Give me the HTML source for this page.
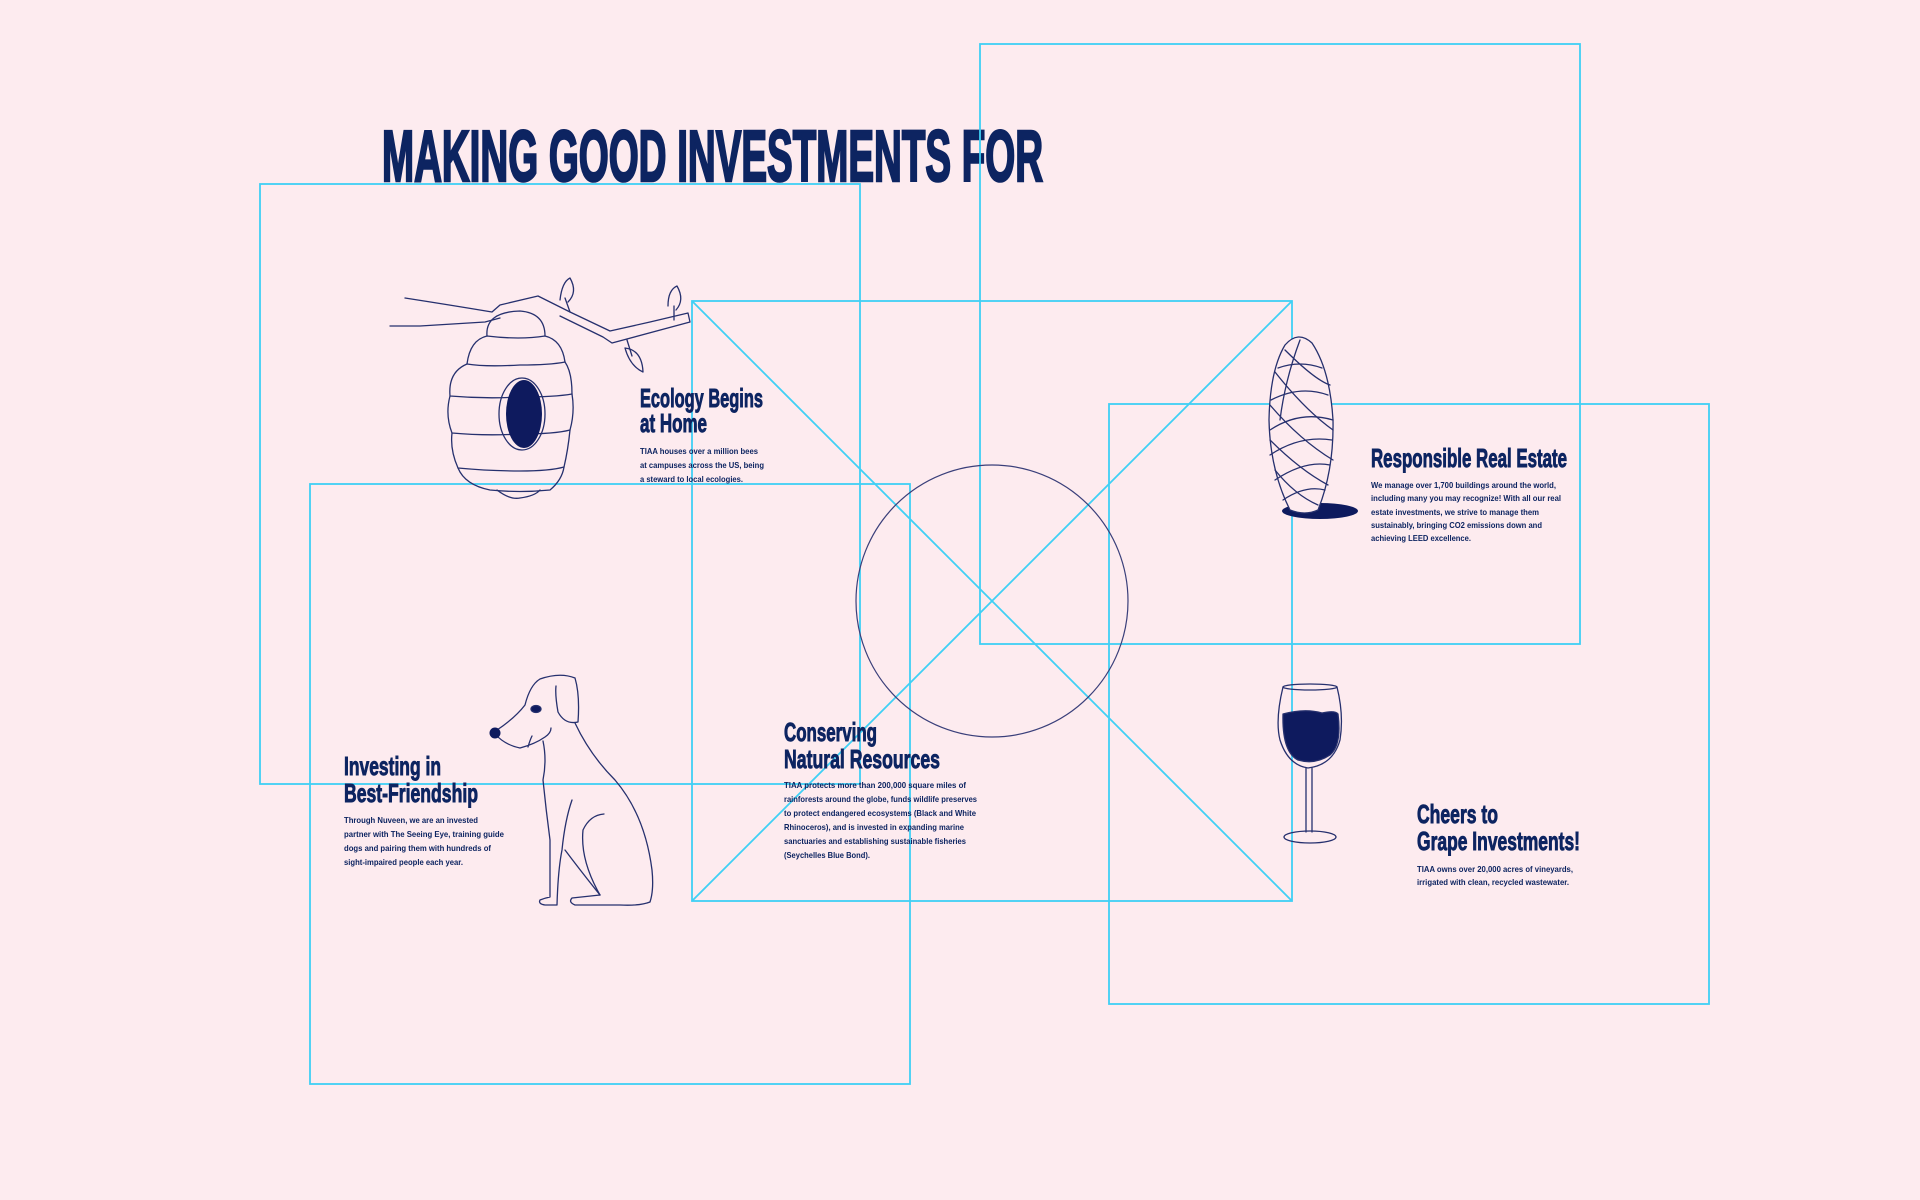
<!DOCTYPE html>
<html><head><meta charset="utf-8"><style>
html,body{margin:0;padding:0;background:#fdebef;}
svg{display:block}
.h{font-family:"Liberation Sans",sans-serif;font-weight:700;fill:#0d2461;stroke:#0d2461;stroke-width:0.9}
.t{stroke-width:2.6}
.b{font-family:"Liberation Sans",sans-serif;font-weight:700;fill:#0d2461;font-size:8.5px}
.box{fill:none;stroke:#3fd0f5;stroke-width:1.8}
.ill{fill:none;stroke:#26306e;stroke-width:1.3;stroke-linecap:round;stroke-linejoin:round}
</style></head><body>
<svg width="1920" height="1200" viewBox="0 0 1920 1200">
<rect width="1920" height="1200" fill="#fdebef"/>

<text class="h t" x="382" y="181" font-size="72" textLength="661" lengthAdjust="spacingAndGlyphs">MAKING GOOD INVESTMENTS FOR</text>

<g>
<rect class="box" x="260" y="184" width="600" height="600"/>
<rect class="box" x="980" y="44" width="600" height="600"/>
<rect class="box" x="692" y="301" width="600" height="600"/>
<line class="box" x1="692" y1="301" x2="1292" y2="901"/>
<line class="box" x1="1292" y1="301" x2="692" y2="901"/>
<rect class="box" x="310" y="484" width="600" height="600"/>
<rect class="box" x="1109" y="404" width="600" height="600"/>
</g>
<circle cx="992" cy="601" r="136" fill="none" stroke="#3a3f7a" stroke-width="1.2"/>

<g class="ill">
<path d="M390 326 L420 326 L485 322 L500 318"/>
<path d="M405 298 Q450 305 492 312 L500 305 L538 296 L570 312 L610 331 L650 322 L688 313 L690 322 L612 343 L603 337 L560 316"/>
<path d="M570 312 L565 298"/>
<path d="M560 300 Q562 282 570 278 Q578 292 568 302"/>
<path d="M674 320 L674 306"/>
<path d="M668 306 Q668 290 677 286 Q685 300 676 310"/>
<path d="M627 340 L632 356"/>
<path d="M625 348 Q642 350 643 372 Q630 366 625 348"/>
<path d="M487 336 Q485 312 520 311 Q545 313 545 336"/>
<path d="M487 336 Q470 340 467 364 Q485 367 520 365 Q550 365 565 362 Q562 340 545 336 Q520 340 487 336"/>
<path d="M467 364 Q448 372 450 396 Q485 399 520 397 Q555 397 572 394 Q572 372 565 362"/>
<path d="M450 396 Q445 415 452 433 Q485 436 520 434 Q555 434 570 430 Q575 412 572 394"/>
<path d="M452 433 Q450 450 458 468 Q490 471 520 471 Q550 471 564 467 Q568 450 570 430"/>
<path d="M458 468 Q465 485 490 490 Q520 493 550 490 Q562 480 564 467"/>
<path d="M497 490 Q510 500 520 498 Q535 496 540 490"/>
<ellipse cx="522" cy="414" rx="23" ry="36"/>
<ellipse cx="524" cy="414" rx="18" ry="34" fill="#0e1a5e" stroke="none"/>
</g>

<g class="ill">
<path d="M497 730 Q515 718 525 705 Q530 685 540 679 Q560 672 575 678 Q580 695 578 722 Q565 725 558 712 Q555 695 556 686"/>
<path d="M495 734 Q505 745 520 748 Q535 744 545 737 Q551 733 551 728"/>
<path d="M528 747 Q530 740 532 736"/>
<path d="M575 723 Q590 755 615 780 Q645 815 652 870 Q654 890 650 902 Q640 906 620 905 Q600 905 575 905 Q568 902 572 898 L600 895"/>
<path d="M543 741 Q547 760 543 780 Q546 810 550 840 Q550 880 550 897 Q545 898 540 900 Q538 904 545 905 L557 905 Q558 870 562 850 Q565 820 572 800"/>
<path d="M565 850 Q580 870 600 895"/>
<path d="M604 814 Q590 815 583 830 Q580 860 600 895"/>
<ellipse cx="536" cy="709" rx="5" ry="3.5" fill="#0e1a5e"/>
<circle cx="495" cy="733" r="5.5" fill="#0e1a5e" stroke="none"/>
</g>

<g class="ill">
<ellipse cx="1320" cy="511" rx="38" ry="8" fill="#0e1a5e" stroke="none"/>
<path d="M1290 510 Q1270 470 1269 420 Q1270 370 1285 345 Q1298 330 1312 343 Q1330 370 1333 420 Q1334 470 1318 510 Q1305 516 1290 510 Z" fill="#fdebef"/>
<path d="M1278 368 Q1300 360 1322 368"/>
<path d="M1285 350 Q1315 380 1330 385"/>
<path d="M1271 400 Q1300 385 1328 395"/>
<path d="M1270 430 Q1300 410 1333 420"/>
<path d="M1270 455 Q1300 435 1332 440"/>
<path d="M1275 480 Q1305 460 1330 465"/>
<path d="M1283 500 Q1305 485 1325 490"/>
<path d="M1275 372 Q1305 410 1333 430"/>
<path d="M1270 405 Q1300 440 1333 460"/>
<path d="M1270 440 Q1300 470 1328 485"/>
<path d="M1275 470 Q1295 495 1318 505"/>
<path d="M1300 340 Q1285 380 1280 420"/>
</g>

<g class="ill">
<ellipse cx="1310" cy="687" rx="27" ry="3"/>
<path d="M1283 687 Q1275 720 1280 740 Q1288 765 1308 768 Q1333 765 1340 740 Q1344 715 1337 687"/>
<path d="M1283 714 Q1305 708 1322 713 Q1335 710 1338 714 Q1342 745 1330 755 Q1315 765 1298 760 Q1282 752 1283 714 Z" fill="#0e1a5e"/>
<path d="M1306 768 L1306 832 M1312 768 L1312 832"/>
<ellipse cx="1310" cy="837" rx="26" ry="6"/>
</g>

<g>
<text class="h" x="640" y="407" font-size="26" textLength="123" lengthAdjust="spacingAndGlyphs">Ecology Begins</text>
<text class="h" x="640" y="432" font-size="26" textLength="67" lengthAdjust="spacingAndGlyphs">at Home</text>
<text class="b" x="640" y="454" textLength="118" lengthAdjust="spacingAndGlyphs">TIAA houses over a million bees</text>
<text class="b" x="640" y="468" textLength="124" lengthAdjust="spacingAndGlyphs">at campuses across the US, being</text>
<text class="b" x="640" y="482" textLength="103" lengthAdjust="spacingAndGlyphs">a steward to local ecologies.</text>
</g>
<g>
<text class="h" x="1371" y="467" font-size="26" textLength="196" lengthAdjust="spacingAndGlyphs">Responsible Real Estate</text>
<text class="b" x="1371" y="488" textLength="185" lengthAdjust="spacingAndGlyphs">We manage over 1,700 buildings around the world,</text>
<text class="b" x="1371" y="501" textLength="190" lengthAdjust="spacingAndGlyphs">including many you may recognize! With all our real</text>
<text class="b" x="1371" y="515" textLength="168" lengthAdjust="spacingAndGlyphs">estate investments, we strive to manage them</text>
<text class="b" x="1371" y="528" textLength="171" lengthAdjust="spacingAndGlyphs">sustainably, bringing CO2 emissions down and</text>
<text class="b" x="1371" y="541" textLength="100" lengthAdjust="spacingAndGlyphs">achieving LEED excellence.</text>
</g>
<g>
<text class="h" x="784" y="741" font-size="26" textLength="93" lengthAdjust="spacingAndGlyphs">Conserving</text>
<text class="h" x="784" y="768" font-size="26" textLength="156" lengthAdjust="spacingAndGlyphs">Natural Resources</text>
<text class="b" x="784" y="788" textLength="182" lengthAdjust="spacingAndGlyphs">TIAA protects more than 200,000 square miles of</text>
<text class="b" x="784" y="802" textLength="193" lengthAdjust="spacingAndGlyphs">rainforests around the globe, funds wildlife preserves</text>
<text class="b" x="784" y="816" textLength="192" lengthAdjust="spacingAndGlyphs">to protect endangered ecosystems (Black and White</text>
<text class="b" x="784" y="830" textLength="180" lengthAdjust="spacingAndGlyphs">Rhinoceros), and is invested in expanding marine</text>
<text class="b" x="784" y="844" textLength="182" lengthAdjust="spacingAndGlyphs">sanctuaries and establishing sustainable fisheries</text>
<text class="b" x="784" y="858" textLength="86" lengthAdjust="spacingAndGlyphs">(Seychelles Blue Bond).</text>
</g>
<g>
<text class="h" x="344" y="775" font-size="26" textLength="97" lengthAdjust="spacingAndGlyphs">Investing in</text>
<text class="h" x="344" y="802" font-size="26" textLength="134" lengthAdjust="spacingAndGlyphs">Best-Friendship</text>
<text class="b" x="344" y="823" textLength="134" lengthAdjust="spacingAndGlyphs">Through Nuveen, we are an invested</text>
<text class="b" x="344" y="837" textLength="160" lengthAdjust="spacingAndGlyphs">partner with The Seeing Eye, training guide</text>
<text class="b" x="344" y="851" textLength="147" lengthAdjust="spacingAndGlyphs">dogs and pairing them with hundreds of</text>
<text class="b" x="344" y="865" textLength="119" lengthAdjust="spacingAndGlyphs">sight-impaired people each year.</text>
</g>
<g>
<text class="h" x="1417" y="823" font-size="26" textLength="81" lengthAdjust="spacingAndGlyphs">Cheers to</text>
<text class="h" x="1417" y="850" font-size="26" textLength="163" lengthAdjust="spacingAndGlyphs">Grape Investments!</text>
<text class="b" x="1417" y="872" textLength="156" lengthAdjust="spacingAndGlyphs">TIAA owns over 20,000 acres of vineyards,</text>
<text class="b" x="1417" y="885" textLength="152" lengthAdjust="spacingAndGlyphs">irrigated with clean, recycled wastewater.</text>
</g>
</svg>
</body></html>
